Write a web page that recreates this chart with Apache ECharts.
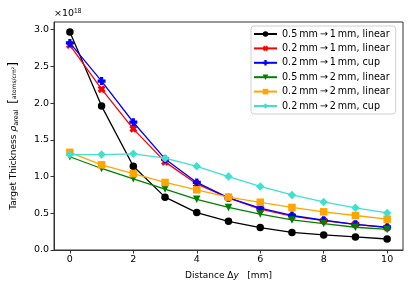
<!DOCTYPE html>
<html><head><meta charset="utf-8">
<script src="https://cdn.jsdelivr.net/npm/echarts@6/dist/echarts.min.js"></script>
<style>html,body{margin:0;padding:0;background:#fff}#c{width:415px;height:294px}</style>
</head><body><div id="c"></div>
<script>
const distances = [0,1,2,3,4,5,6,7,8,9,10];
const seriesNames = [
  "0.5\u2009mm\u2009\u2192\u20091\u2009mm, linear",
  "0.2\u2009mm\u2009\u2192\u20091\u2009mm, linear",
  "0.2\u2009mm\u2009\u2192\u20091\u2009mm, cup",
  "0.5\u2009mm\u2009\u2192\u20092\u2009mm, linear",
  "0.2\u2009mm\u2009\u2192\u20092\u2009mm, linear",
  "0.2\u2009mm\u2009\u2192\u20092\u2009mm, cup"
];
const s05to1Linear = [2.97,1.96,1.14,0.72,0.51,0.39,0.305,0.24,0.205,0.178,0.15];
const s02to1Linear = [2.79,2.19,1.65,1.20,0.90,0.71,0.556,0.46,0.40,0.35,0.305];
const s02to1Cup    = [2.82,2.30,1.74,1.24,0.92,0.71,0.57,0.47,0.405,0.35,0.31];
const s05to2Linear = [1.27,1.11,0.97,0.83,0.69,0.58,0.49,0.41,0.36,0.31,0.28];
const s02to2Linear = [1.33,1.16,1.04,0.92,0.82,0.72,0.65,0.58,0.52,0.47,0.42];
const s02to2Cup    = [1.30,1.30,1.31,1.25,1.14,1.00,0.865,0.75,0.655,0.575,0.505];
const xTicks = [0,2,4,6,8,10];
const yTicks = [0,0.5,1.0,1.5,2.0,2.5,3.0];

const plus = 'path://M-1.3,-3.2L1.3,-3.2L1.3,-1.3L3.2,-1.3L3.2,1.3L1.3,1.3L1.3,3.2L-1.3,3.2L-1.3,1.3L-3.2,1.3L-3.2,-1.3L-1.3,-1.3Z';
const styles = [
  {color:'#000000', symbol:'circle', size:7.5, rot:0},
  {color:'#ff0000', symbol:plus, size:8, rot:45},
  {color:'#0000ff', symbol:plus, size:8, rot:0},
  {color:'#008000', symbol:'triangle', size:7.5, rot:180},
  {color:'#ffa500', symbol:'rect', size:7.5, rot:0},
  {color:'#40e0d0', symbol:'diamond', size:8.5, rot:0}
];
const allData = [s05to1Linear,s02to1Linear,s02to1Cup,s05to2Linear,s02to2Linear,s02to2Cup];
const font = 'DejaVu Sans';
const chart = echarts.init(document.getElementById('c'));
chart.setOption({
  animation:false,
  textStyle:{fontFamily:font},
  grid:{left:53,right:12,top:22,bottom:44,show:true,borderColor:'#333',borderWidth:1,backgroundColor:'transparent'},
  legend:{
    orient:'vertical', left:251, top:26,
    backgroundColor:'#fff', borderColor:'#d0d0d0', borderWidth:1, borderRadius:3,
    padding:[3,6,3,2], itemWidth:23, itemHeight:7, itemGap:4.4,
    textStyle:{fontSize:9.6, color:'#000', fontFamily:font},
    data:seriesNames
  },
  xAxis:{
    type:'value', min:-0.5, max:10.5,
    name:'Distance \u0394{it|y}   [mm]', nameLocation:'middle', nameGap:21,
    nameTextStyle:{fontSize:9,color:'#000',rich:{it:{fontStyle:'italic',fontSize:9}}},
    axisLine:{show:true,onZero:false,lineStyle:{color:'#333'}},
    axisTick:{show:true,length:3.5,lineStyle:{color:'#333'},customValues:xTicks},
    axisLabel:{fontSize:9.5,color:'#000',margin:5,customValues:xTicks},
    splitLine:{show:false}
  },
  yAxis:{
    type:'value', min:0, max:3.105,
    name:'Target Thickness {it|\u03c1}{sub|areal}  {br|[}{fr|atoms/cm\u00b2}{br|]}', nameLocation:'middle', nameGap:34, nameRotate:90,
    nameTextStyle:{fontSize:9,color:'#000',rich:{it:{fontStyle:'italic',fontSize:9.5},sub:{fontSize:6.5,verticalAlign:'bottom',padding:[4,0,0,0]},br:{fontSize:12},fr:{fontSize:6}}},
    axisLine:{show:true,onZero:false,lineStyle:{color:'#333'}},
    axisTick:{show:true,length:3.5,lineStyle:{color:'#333'},customValues:yTicks},
    axisLabel:{fontSize:9.5,color:'#000',margin:5,customValues:yTicks,formatter:v=>v.toFixed(1)},
    splitLine:{show:false}
  },
  graphic:[{type:'text',left:54,top:8,style:{text:'\u00d710{sup|18}',fontSize:9.5,fill:'#000',fontFamily:font,rich:{sup:{fontSize:6.5,verticalAlign:'top',padding:[0,0,5,0]}}}}],
  series: allData.map((d,i)=>({
    name:seriesNames[i], type:'line',
    data:d.map((v,j)=>[distances[j],v]),
    symbol:styles[i].symbol, symbolSize:styles[i].size, symbolRotate:styles[i].rot,
    showAllSymbol:true,
    lineStyle:{color:styles[i].color,width:1.3},
    itemStyle:{color:styles[i].color,borderWidth:0},
    z:2+i
  }))
});
</script></body></html>
